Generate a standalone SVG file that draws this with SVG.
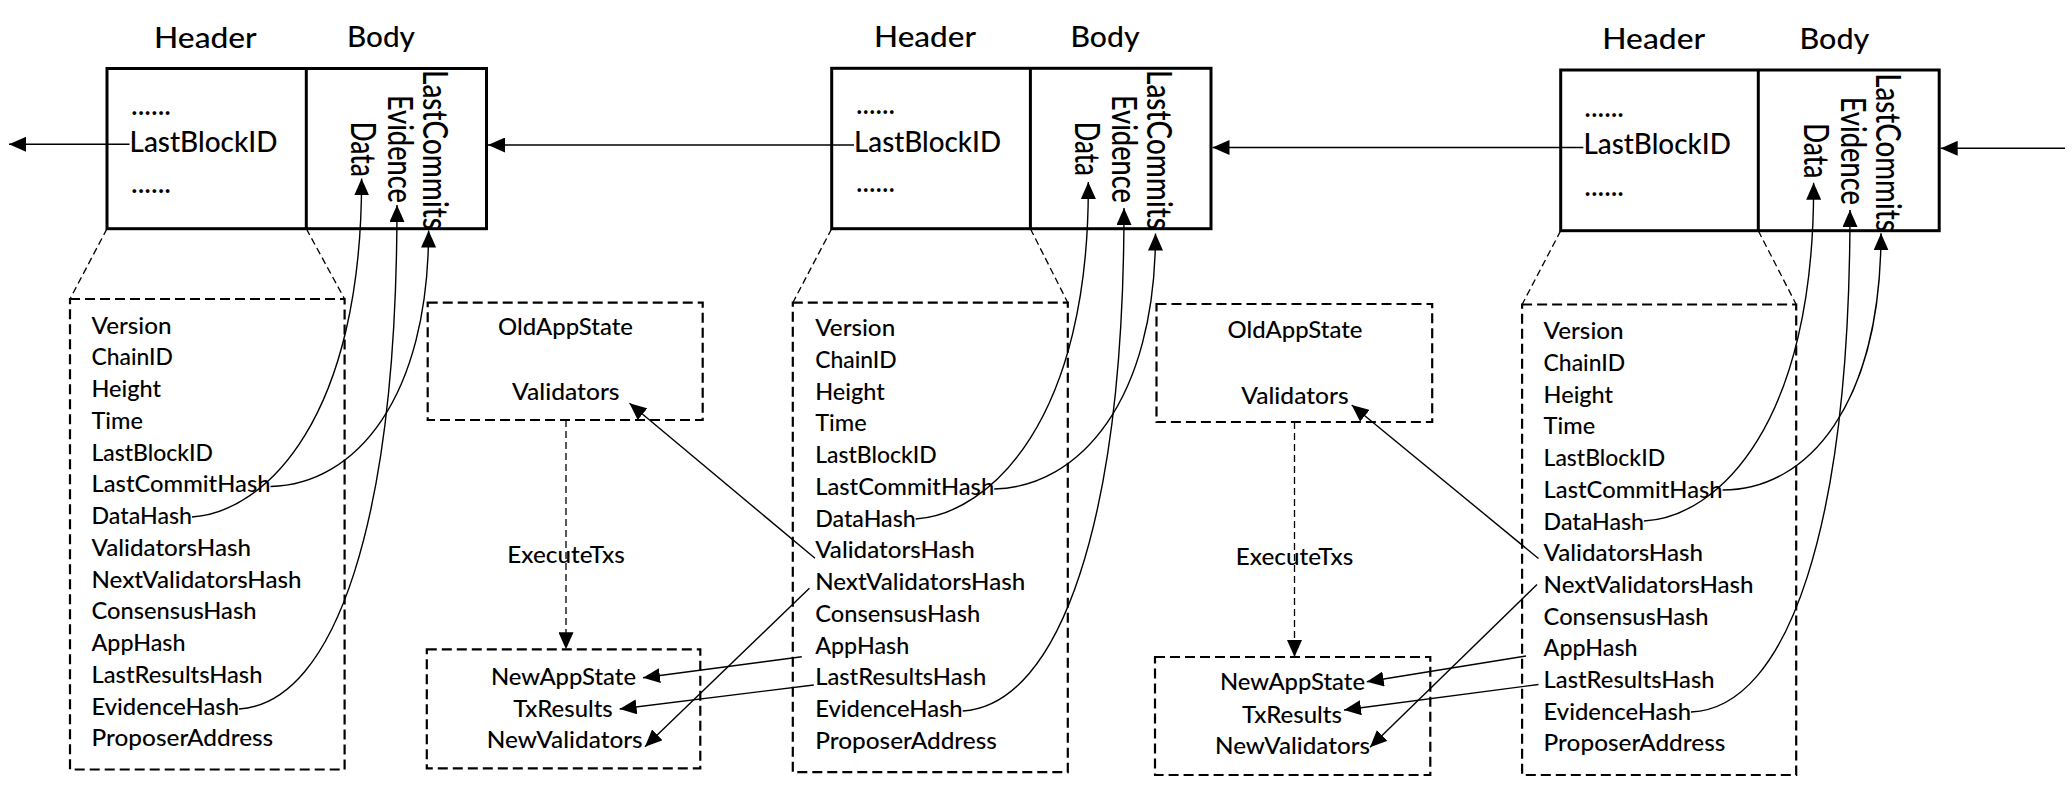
<svg xmlns="http://www.w3.org/2000/svg" width="2072" height="786" viewBox="0 0 2072 786">
<defs>
<style>
.t{font-family:Lato,"Liberation Sans",sans-serif;fill:#000;font-weight:500}
.f{font-size:23.5px}
.big{font-size:28px}
.vt{font-size:34px}
.mid{text-anchor:middle}
.blk{fill:none;stroke:#000;stroke-width:3}
.dbox{fill:none;stroke:#000;stroke-width:2.2;stroke-dasharray:10 5}
.conn path{fill:none;stroke:#000;stroke-width:1.4}
.conn .thin-dash{stroke-dasharray:7 4;stroke-width:1.3}
</style>
<marker id="ah" viewBox="0 0 17 15" refX="17" refY="7.5" markerWidth="17" markerHeight="15" markerUnits="userSpaceOnUse" orient="auto">
<path d="M0,0 L17,7.5 L0,15 z" fill="#000"/>
</marker>
</defs>
<rect width="2072" height="786" fill="#fff"/>

<!-- Block 1 -->
<g id="block1" class="t">
<rect class="blk" x="107" y="68.5" width="379.5" height="160.2"/>
<line class="blk" x1="306.3" y1="68.5" x2="306.3" y2="228.7"/>
<text class="big mid" x="205.4" y="48.3" textLength="102.7" lengthAdjust="spacingAndGlyphs">Header</text>
<text class="big mid" x="381" y="46.7" textLength="68" lengthAdjust="spacingAndGlyphs">Body</text>
<text class="big" x="131" y="115" textLength="40" lengthAdjust="spacingAndGlyphs">......</text>
<text class="big" x="129.5" y="151.7" textLength="148" lengthAdjust="spacingAndGlyphs">LastBlockID</text>
<text class="big" x="131" y="192.7" textLength="40" lengthAdjust="spacingAndGlyphs">......</text>
<text class="vt" transform="translate(350.5,121.7) rotate(90)" textLength="55" lengthAdjust="spacingAndGlyphs">Data</text>
<text class="vt" transform="translate(387.5,95) rotate(90)" textLength="108" lengthAdjust="spacingAndGlyphs">Evidence</text>
<text class="vt" transform="translate(422.5,70) rotate(90)" textLength="160" lengthAdjust="spacingAndGlyphs">LastCommits</text>
</g>

<!-- Block 2 -->
<g id="block2" class="t">
<rect class="blk" x="831.7" y="68.3" width="379.3" height="160.4"/>
<line class="blk" x1="1030.4" y1="68.3" x2="1030.4" y2="228.7"/>
<text class="big mid" x="925" y="46.7" textLength="102" lengthAdjust="spacingAndGlyphs">Header</text>
<text class="big mid" x="1105" y="46.7" textLength="69" lengthAdjust="spacingAndGlyphs">Body</text>
<text class="big" x="856" y="114" textLength="39" lengthAdjust="spacingAndGlyphs">......</text>
<text class="big" x="854" y="151.7" textLength="147" lengthAdjust="spacingAndGlyphs">LastBlockID</text>
<text class="big" x="856" y="191.7" textLength="39" lengthAdjust="spacingAndGlyphs">......</text>
<text class="vt" transform="translate(1075.2,121.7) rotate(90)" textLength="54.3" lengthAdjust="spacingAndGlyphs">Data</text>
<text class="vt" transform="translate(1112.2,95) rotate(90)" textLength="108" lengthAdjust="spacingAndGlyphs">Evidence</text>
<text class="vt" transform="translate(1147.2,70) rotate(90)" textLength="160" lengthAdjust="spacingAndGlyphs">LastCommits</text>
</g>

<!-- Block 3 -->
<g id="block3" class="t">
<rect class="blk" x="1560.7" y="70" width="378.5" height="160.7"/>
<line class="blk" x1="1758.3" y1="70" x2="1758.3" y2="230.7"/>
<text class="big mid" x="1653.7" y="49.3" textLength="102.9" lengthAdjust="spacingAndGlyphs">Header</text>
<text class="big mid" x="1834.4" y="49.3" textLength="69.8" lengthAdjust="spacingAndGlyphs">Body</text>
<text class="big" x="1584.3" y="116.7" textLength="39.7" lengthAdjust="spacingAndGlyphs">......</text>
<text class="big" x="1583.4" y="154.3" textLength="147.5" lengthAdjust="spacingAndGlyphs">LastBlockID</text>
<text class="big" x="1584.3" y="196" textLength="39.7" lengthAdjust="spacingAndGlyphs">......</text>
<text class="vt" transform="translate(1804.2,123.3) rotate(90)" textLength="55" lengthAdjust="spacingAndGlyphs">Data</text>
<text class="vt" transform="translate(1841.2,96.7) rotate(90)" textLength="108.3" lengthAdjust="spacingAndGlyphs">Evidence</text>
<text class="vt" transform="translate(1876.2,73.3) rotate(90)" textLength="158.4" lengthAdjust="spacingAndGlyphs">LastCommits</text>
</g>

<!-- Header detail 1 -->
<g id="header1" class="t f">
<rect class="dbox" x="70" y="299" width="274.6" height="470.5"/>
<text x="91.5" y="333.5" textLength="80" lengthAdjust="spacingAndGlyphs">Version</text>
<text x="91.5" y="365.25" textLength="81.5" lengthAdjust="spacingAndGlyphs">ChainID</text>
<text x="91.5" y="397" textLength="69.5" lengthAdjust="spacingAndGlyphs">Height</text>
<text x="91.5" y="428.75" textLength="51.5" lengthAdjust="spacingAndGlyphs">Time</text>
<text x="91.5" y="460.5" textLength="121.5" lengthAdjust="spacingAndGlyphs">LastBlockID</text>
<text x="91.5" y="492.25" textLength="179" lengthAdjust="spacingAndGlyphs">LastCommitHash</text>
<text x="91.5" y="524" textLength="100.5" lengthAdjust="spacingAndGlyphs">DataHash</text>
<text x="91.5" y="555.75" textLength="159.5" lengthAdjust="spacingAndGlyphs">ValidatorsHash</text>
<text x="91.5" y="587.5" textLength="210" lengthAdjust="spacingAndGlyphs">NextValidatorsHash</text>
<text x="91.5" y="619.25" textLength="165" lengthAdjust="spacingAndGlyphs">ConsensusHash</text>
<text x="91.5" y="651" textLength="94" lengthAdjust="spacingAndGlyphs">AppHash</text>
<text x="91.5" y="682.75" textLength="171" lengthAdjust="spacingAndGlyphs">LastResultsHash</text>
<text x="91.5" y="714.5" textLength="147.5" lengthAdjust="spacingAndGlyphs">EvidenceHash</text>
<text x="91.5" y="746.25" textLength="181.7" lengthAdjust="spacingAndGlyphs">ProposerAddress</text>
</g>

<!-- Header detail 2 -->
<g id="header2" class="t f">
<rect class="dbox" x="792.8" y="302.7" width="275" height="469.5"/>
<text x="815.2" y="336" textLength="80" lengthAdjust="spacingAndGlyphs">Version</text>
<text x="815.2" y="367.75" textLength="81.5" lengthAdjust="spacingAndGlyphs">ChainID</text>
<text x="815.2" y="399.5" textLength="69.5" lengthAdjust="spacingAndGlyphs">Height</text>
<text x="815.2" y="431.25" textLength="51.5" lengthAdjust="spacingAndGlyphs">Time</text>
<text x="815.2" y="463" textLength="121.5" lengthAdjust="spacingAndGlyphs">LastBlockID</text>
<text x="815.2" y="494.75" textLength="179" lengthAdjust="spacingAndGlyphs">LastCommitHash</text>
<text x="815.2" y="526.5" textLength="100.5" lengthAdjust="spacingAndGlyphs">DataHash</text>
<text x="815.2" y="558.25" textLength="159.5" lengthAdjust="spacingAndGlyphs">ValidatorsHash</text>
<text x="815.2" y="590" textLength="210" lengthAdjust="spacingAndGlyphs">NextValidatorsHash</text>
<text x="815.2" y="621.75" textLength="165" lengthAdjust="spacingAndGlyphs">ConsensusHash</text>
<text x="815.2" y="653.5" textLength="94" lengthAdjust="spacingAndGlyphs">AppHash</text>
<text x="815.2" y="685.25" textLength="171" lengthAdjust="spacingAndGlyphs">LastResultsHash</text>
<text x="815.2" y="717" textLength="147.5" lengthAdjust="spacingAndGlyphs">EvidenceHash</text>
<text x="815.2" y="748.75" textLength="181.7" lengthAdjust="spacingAndGlyphs">ProposerAddress</text>
</g>

<!-- Header detail 3 -->
<g id="header3" class="t f">
<rect class="dbox" x="1522.1" y="304.5" width="274.1" height="470.5"/>
<text x="1543.6" y="339.3" textLength="80" lengthAdjust="spacingAndGlyphs">Version</text>
<text x="1543.6" y="371" textLength="81.5" lengthAdjust="spacingAndGlyphs">ChainID</text>
<text x="1543.6" y="402.7" textLength="69.5" lengthAdjust="spacingAndGlyphs">Height</text>
<text x="1543.6" y="434.4" textLength="51.5" lengthAdjust="spacingAndGlyphs">Time</text>
<text x="1543.6" y="466.1" textLength="121.5" lengthAdjust="spacingAndGlyphs">LastBlockID</text>
<text x="1543.6" y="497.8" textLength="179" lengthAdjust="spacingAndGlyphs">LastCommitHash</text>
<text x="1543.6" y="529.5" textLength="100.5" lengthAdjust="spacingAndGlyphs">DataHash</text>
<text x="1543.6" y="561.2" textLength="159.5" lengthAdjust="spacingAndGlyphs">ValidatorsHash</text>
<text x="1543.6" y="592.9" textLength="210" lengthAdjust="spacingAndGlyphs">NextValidatorsHash</text>
<text x="1543.6" y="624.6" textLength="165" lengthAdjust="spacingAndGlyphs">ConsensusHash</text>
<text x="1543.6" y="656.3" textLength="94" lengthAdjust="spacingAndGlyphs">AppHash</text>
<text x="1543.6" y="688" textLength="171" lengthAdjust="spacingAndGlyphs">LastResultsHash</text>
<text x="1543.6" y="719.7" textLength="147.5" lengthAdjust="spacingAndGlyphs">EvidenceHash</text>
<text x="1543.6" y="751.4" textLength="181.7" lengthAdjust="spacingAndGlyphs">ProposerAddress</text>
</g>

<!-- State boxes -->
<g id="oldstate1" class="t f mid">
<rect class="dbox" x="427.7" y="302.7" width="275" height="117.3"/>
<text x="565.5" y="335" textLength="135" lengthAdjust="spacingAndGlyphs">OldAppState</text>
<text x="565.8" y="400" textLength="107.5" lengthAdjust="spacingAndGlyphs">Validators</text>
</g>
<g id="newstate1" class="t f mid">
<rect class="dbox" x="426.8" y="649.3" width="273.5" height="119"/>
<text x="563.5" y="684.5" textLength="145" lengthAdjust="spacingAndGlyphs">NewAppState</text>
<text x="563" y="716.5" textLength="99.5" lengthAdjust="spacingAndGlyphs">TxResults</text>
<text x="564.7" y="748" textLength="156" lengthAdjust="spacingAndGlyphs">NewValidators</text>
</g>
<g id="oldstate2" class="t f mid">
<rect class="dbox" x="1156.5" y="304" width="275.7" height="118"/>
<text x="1295" y="338.3" textLength="135" lengthAdjust="spacingAndGlyphs">OldAppState</text>
<text x="1295" y="404" textLength="107.5" lengthAdjust="spacingAndGlyphs">Validators</text>
</g>
<g id="newstate2" class="t f mid">
<rect class="dbox" x="1155" y="657" width="275.3" height="118"/>
<text x="1292.5" y="690" textLength="145" lengthAdjust="spacingAndGlyphs">NewAppState</text>
<text x="1292" y="722.5" textLength="100" lengthAdjust="spacingAndGlyphs">TxResults</text>
<text x="1292.5" y="754" textLength="155" lengthAdjust="spacingAndGlyphs">NewValidators</text>
</g>

<!-- Connectors -->
<g id="connectors" class="conn">
<path d="M129.5,144.3 H9" marker-end="url(#ah)"/>
<path d="M854,145 H488" marker-end="url(#ah)"/>
<path d="M1583.4,147.5 H1212.5" marker-end="url(#ah)"/>
<path d="M2065,148.3 H1940.7" marker-end="url(#ah)"/>

<path class="thin-dash" d="M107,228.7 L70,299 M306.3,228.7 L344.6,299"/>
<path class="thin-dash" d="M831.7,228.7 L792.8,302.7 M1030.4,228.7 L1067.8,302.7"/>
<path class="thin-dash" d="M1560.7,230.7 L1522.1,304.5 M1758.3,230.7 L1796.2,304.5"/>

<path d="M192,517 C266,512 362,418 361.6,178.5" marker-end="url(#ah)"/>
<path d="M270.5,486.5 C356,484.5 428.6,397.5 428.6,230.5" marker-end="url(#ah)"/>
<path d="M239,709 C336,703 397,518 397,205" marker-end="url(#ah)"/>

<path d="M915.7,519 C990,514 1090,420 1088.3,182" marker-end="url(#ah)"/>
<path d="M994.2,489 C1080,487 1155.5,400 1155.5,233.5" marker-end="url(#ah)"/>
<path d="M962.7,711 C1060,705 1124,520 1124,208" marker-end="url(#ah)"/>

<path d="M1644,521 C1719,517 1815,423 1813.6,182.7" marker-end="url(#ah)"/>
<path d="M1722.6,490 C1809,490 1881,403 1881,233.3" marker-end="url(#ah)"/>
<path d="M1691,712 C1789,708 1850,523 1850,210" marker-end="url(#ah)"/>

<path d="M815,558.3 L629.5,403.3" marker-end="url(#ah)"/>
<path d="M809.4,588.3 L645,746.7" marker-end="url(#ah)"/>
<path d="M801.8,656.7 L643,677.8" marker-end="url(#ah)"/>
<path d="M813.8,685 L619.6,709" marker-end="url(#ah)"/>

<path d="M1538.5,558.5 L1351.7,405" marker-end="url(#ah)"/>
<path d="M1537,584.5 L1370,747.3" marker-end="url(#ah)"/>
<path d="M1526,656 L1366.7,681.7" marker-end="url(#ah)"/>
<path d="M1538.5,684.5 L1344,710" marker-end="url(#ah)"/>

<path class="thin-dash" d="M566,420 V649.3" marker-end="url(#ah)"/>
<path class="thin-dash" d="M1294.5,422 V657" marker-end="url(#ah)"/>
<text class="t f mid" x="566" y="563.3" textLength="117.5" lengthAdjust="spacingAndGlyphs">ExecuteTxs</text>
<text class="t f mid" x="1294.5" y="565" textLength="117.5" lengthAdjust="spacingAndGlyphs">ExecuteTxs</text>
</g>
</svg>
